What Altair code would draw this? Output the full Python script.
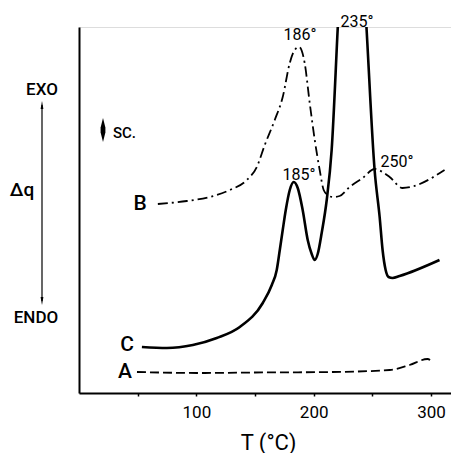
import altair as alt
import pandas as pd

FONT = "Roboto"

# ---- data (T in °C, q in arbitrary heat-flow units) ----
a_T = [49.4, 103, 150, 216, 264.7, 281.7, 297, 301.3]
a_q = [21, 20, 20.5, 21, 23, 28, 34, 31]

b_T = [67.2, 91.9, 111.5, 128.5, 143.0, 151.5, 158.3, 166.8, 173.6, 179.6, 183.8,
       187.5, 192.3, 196.6, 200.9, 205.1, 208.5, 211.9, 216.2, 222.1, 230.6, 241.7,
       251.9, 258.7, 264.7, 275.7, 311.5]
b_q = [189, 192, 196, 203, 213, 226, 248, 273, 296, 330, 343,
       346, 330, 290, 253, 223, 203, 198, 196, 197, 206, 215,
       224, 221, 216, 205, 223]

c_T = [53.6, 74.9, 97.0, 117.4, 137.0, 156.6, 164.3, 168.5, 171.1, 173.6, 176.2,
       179.6, 183.0, 186.4, 190.6, 194.9, 198.3, 200.9, 203.4, 206.8, 211.1, 215.3,
       220.4, 231.9, 245.1, 251.9, 256.2, 258.7, 261.3, 263.8, 267.2, 273.2, 307.2]
c_q = [46, 45, 48, 55, 66, 90, 108, 123, 143, 163, 183,
       203, 211, 205, 183, 153, 139, 133, 139, 160, 193, 243,
       363, 634, 363, 223, 176, 143, 123, 116, 115, 117, 133]

x_ticks = [50, 100, 150, 200, 250, 300]

rows = []
for name, T, q in (("A", a_T, a_q), ("B", b_T, b_q), ("C", c_T, c_q)):
    for i, (t, v) in enumerate(zip(T, q)):
        rows.append({"curve": name, "T": t, "q": v, "order": i})
df = pd.DataFrame(rows)

W, H = 372, 366
xs = alt.Scale(domain=[0, 317], nice=False, zero=False)
ys = alt.Scale(domain=[0, 366], nice=False, zero=False)

base = alt.Chart(df)

x_enc = alt.X("T:Q", scale=xs,
              axis=alt.Axis(values=x_ticks, title="T (°C)",
                            labelExpr="datum.value % 100 == 0 ? datum.label : ''",
                            grid=False, domainColor="black", domainWidth=2,
                            tickColor="black", tickWidth=1.5, tickSize=3,
                            labelFont=FONT, labelFontSize=17, labelColor="black",
                            labelPadding=8, titleFont=FONT, titleFontSize=22,
                            titleFontWeight="normal", titleColor="black",
                            titlePadding=12, titleX=189))
y_enc = alt.Y("q:Q", scale=ys,
              axis=alt.Axis(title=None, labels=False, ticks=False, grid=False,
                            domainColor="black", domainWidth=2))

line_a = base.transform_filter("datum.curve == 'A'").mark_line(
    color="black", strokeWidth=1.8, strokeDash=[9, 4], interpolate="monotone", clip=True
).encode(x=x_enc, y=y_enc, order="order:Q")

line_b = base.transform_filter("datum.curve == 'B'").mark_line(
    color="black", strokeWidth=1.8, strokeDash=[10, 4, 2, 4], interpolate="monotone", clip=True
).encode(x="T:Q", y="q:Q", order="order:Q")

line_c = base.transform_filter("datum.curve == 'C'").mark_line(
    color="black", strokeWidth=2.6, interpolate="monotone", clip=True
).encode(x="T:Q", y="q:Q", order="order:Q")


def note(text, x, y, size=16, align="center", weight=400):
    return alt.Chart(alt.Data(values=[{"k": 1}])).mark_text(
        font=FONT, fontSize=size, align=align, baseline="middle",
        color="black", fontWeight=weight
    ).encode(x=alt.value(x), y=alt.value(y), text=alt.value(text))


def glyph(shape, x, y, size):
    return alt.Chart(alt.Data(values=[{"k": 1}])).mark_point(
        shape=shape, filled=True, color="black", opacity=1, strokeWidth=0
    ).encode(x=alt.value(x), y=alt.value(y), size=alt.value(size))


arrow_line = alt.Chart(alt.Data(values=[{"k": 1}])).mark_rule(
    color="black", strokeWidth=1.2
).encode(x=alt.value(-37), y=alt.value(78), y2=alt.value(274))

layers = [
    line_a, line_b, line_c,
    note("EXO", -37, 63, 17, weight=500),
    note("Δq", -57, 163, 19, weight=500),
    note("ENDO", -43, 291, 17, weight=500),
    arrow_line,
    glyph("M0,-1L0.35,1L-0.35,1Z", -37, 78, 64),
    glyph("M0,1L0.35,-1L-0.35,-1Z", -37, 274, 64),
    glyph("M0,-1L0.2,-0.2L0.2,0.2L0,1L-0.2,0.2L-0.2,-0.2Z", 24, 103, 576),
    note("SC.", 34, 106, 15, align="left", weight=500),
    note("B", 61, 177, 21, weight=500),
    note("C", 48, 318, 21, weight=500),
    note("A", 46, 345, 21, weight=500),
    note("186°", 221, 8, 16),
    note("235°", 278, -5, 16),
    note("185°", 220, 148, 16),
    note("250°", 318, 135, 16),
]

chart = alt.layer(*layers).properties(
    width=W, height=H,
    autosize=alt.AutoSizeParams(type="none"),
    padding={"left": 71, "top": 19, "right": 0, "bottom": 60},
).configure_view(stroke=None).configure(background="white")

chart.save("out.html", embed_options={"renderer": "svg", "actions": False})
